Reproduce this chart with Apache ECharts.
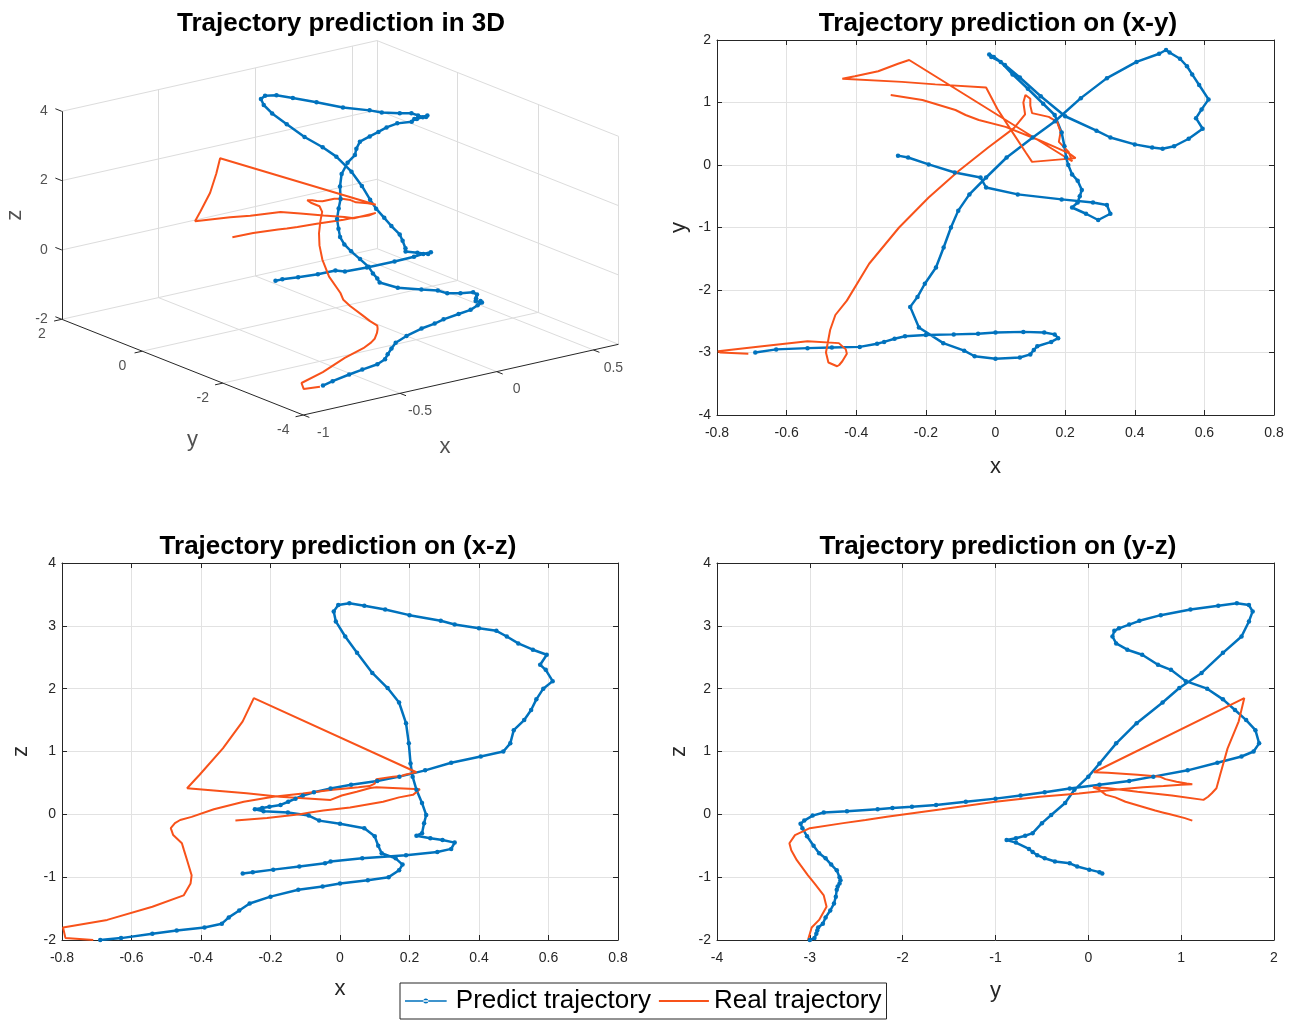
<!DOCTYPE html>
<html><head><meta charset="utf-8">
<script src="https://cdn.jsdelivr.net/npm/echarts@6/dist/echarts.min.js"></script>
<style>html,body{margin:0;padding:0;background:#fff;}#c{width:1296px;height:1022px;}</style>
</head><body><div id="c"></div>
<script>
// ---------- data ----------
const predX = [-0.69,-0.63,-0.54,-0.47,-0.39,-0.34,-0.32,-0.29,-0.26,-0.2,-0.12,-0.05,0.0,0.08,0.14,0.17,
 0.18,0.16,0.12,0.11,0.1,0.07,0.0,-0.06,-0.09,-0.15,-0.22,-0.245,
 -0.224,-0.203,-0.171,-0.149,-0.128,-0.107,-0.075,-0.027,0.032,0.107,0.171,0.245,0.32,0.405,0.47,0.49,
 0.5,0.53,0.55,0.565,0.585,0.612,0.592,0.576,0.595,0.555,0.513,0.48,0.45,
 0.4,0.33,0.29,0.2,0.13,0.07,0.027,-0.005,-0.018,-0.012,
 0.015,0.049,0.093,0.137,0.17,0.19,0.198,0.203,0.209,0.22,0.236,0.248,0.242,0.236,
 0.22,0.26,0.295,0.33,0.32,0.28,0.19,0.064,-0.027,-0.043,-0.117,-0.192,-0.251,-0.28];
const predY = [-3.0,-2.95,-2.93,-2.92,-2.91,-2.86,-2.83,-2.78,-2.74,-2.72,-2.71,-2.7,-2.68,-2.67,-2.68,-2.71,
 -2.77,-2.83,-2.9,-2.96,-3.03,-3.08,-3.1,-3.06,-2.97,-2.85,-2.6,-2.27,
 -2.11,-1.9,-1.64,-1.32,-1.0,-0.73,-0.47,-0.2,0.12,0.44,0.7,1.07,1.39,1.65,1.78,1.84,
 1.8,1.7,1.58,1.45,1.28,1.05,0.89,0.75,0.58,0.42,0.3,0.26,0.28,
 0.33,0.44,0.55,0.78,1.1,1.4,1.6,1.73,1.77,1.73,
 1.65,1.45,1.22,0.98,0.8,0.52,0.3,0.12,0.0,-0.15,-0.25,-0.4,-0.5,-0.6,
 -0.68,-0.78,-0.88,-0.78,-0.64,-0.6,-0.55,-0.47,-0.36,-0.2,-0.12,0.01,0.12,0.15];
const predZ = [-2.0,-1.97,-1.9,-1.85,-1.8,-1.74,-1.64,-1.53,-1.42,-1.31,-1.2,-1.15,-1.1,-1.05,-1.0,-0.89,
 -0.8,-0.7,-0.62,-0.5,-0.35,-0.22,-0.15,-0.1,-0.02,0.03,0.05,0.08,
 0.1,0.12,0.15,0.2,0.25,0.3,0.35,0.41,0.47,0.53,0.6,0.7,0.82,0.92,1.0,1.13,
 1.34,1.5,1.66,1.83,2.0,2.12,2.3,2.38,2.54,2.62,2.72,2.83,2.92,
 2.96,3.02,3.08,3.17,3.26,3.32,3.36,3.33,3.23,3.07,
 2.83,2.57,2.25,2.01,1.78,1.45,1.13,0.81,0.6,0.39,0.18,-0.01,-0.14,-0.3,
 -0.34,-0.38,-0.41,-0.45,-0.55,-0.6,-0.65,-0.7,-0.75,-0.78,-0.83,-0.88,-0.92,-0.94];

const realX = [-0.71,-0.79,-0.797,-0.67,-0.54,-0.45,-0.43,-0.427,-0.44,-0.449,-0.455,-0.48,-0.487,-0.475,-0.46,-0.427,-0.363,-0.277,-0.192,-0.107,
 -0.021,0.053,0.085,0.08,0.086,0.1,0.1,0.105,0.153,0.177,0.187,0.182,0.21,0.22,
 -0.248,-0.28,-0.337,-0.404,-0.44,-0.269,-0.173,-0.027,0.005,0.048,0.087,0.105,0.23,0.21,0.17,0.124,0.029,-0.048,-0.086,-0.115,-0.21,-0.301];
const realY = [-3.02,-3.0,-2.98,-2.9,-2.82,-2.85,-2.95,-3.02,-3.14,-3.2,-3.22,-3.16,-3.0,-2.64,-2.4,-2.17,-1.58,-1.0,-0.52,-0.1,
 0.28,0.59,0.81,1.0,1.12,1.06,0.95,0.83,0.77,0.69,0.53,0.37,0.21,0.06,
 1.68,1.62,1.5,1.42,1.38,1.33,1.29,1.24,0.9,0.53,0.2,0.05,0.11,0.19,0.29,0.4,0.61,0.72,0.8,0.88,1.04,1.12];
const realZ = [-2.0,-1.97,-1.8,-1.68,-1.47,-1.29,-1.1,-0.97,-0.73,-0.57,-0.46,-0.33,-0.22,-0.14,-0.09,-0.04,0.08,0.2,0.28,0.33,
 0.39,0.43,0.45,0.47,0.48,0.49,0.52,0.56,0.6,0.61,0.63,0.645,0.66,0.67,
 1.85,1.48,1.05,0.63,0.415,0.335,0.28,0.23,0.3,0.36,0.42,0.43,0.40,0.31,0.27,0.2,0.11,0.06,0.03,0.0,-0.06,-0.1];

// tick values
const ticks3dX = [-1, -0.5, 0, 0.5];
const ticks3dY = [-4, -2, 0, 2];
const ticks3dZ = [-2, 0, 2, 4];
const seriesNames = ['Predict trajectory', 'Real trajectory'];
const titles = ['Trajectory prediction in 3D', 'Trajectory prediction on (x-y)', 'Trajectory prediction on (x-z)', 'Trajectory prediction on (y-z)'];

// ---------- style ----------
const FONT = '"Liberation Sans", Arial, sans-serif';
const AX = '#262626';
const GRIDC = '#e2e2e2';
const BLUE = '#0072BD';
const ORANGE = '#F8521A';

function zip(a, b) { return a.map((v, i) => [v, b[i]]); }

// ---------- 3D view (orthographic projection, MATLAB default view) ----------
const lim3 = { x: [-1, 0.63], y: [-4, 2], z: [-2, 4] };
const view3 = { o: [303.3, 415], vx: [315.2, -70.7], vy: [-241.5, -95.7], vz: [0, -208] };
function P(x, y, z) {
  const fx = (x - lim3.x[0]) / (lim3.x[1] - lim3.x[0]);
  const fy = (y - lim3.y[0]) / (lim3.y[1] - lim3.y[0]);
  const fz = (z - lim3.z[0]) / (lim3.z[1] - lim3.z[0]);
  return [view3.o[0] + fx * view3.vx[0] + fy * view3.vy[0] + fz * view3.vz[0],
          view3.o[1] + fx * view3.vx[1] + fy * view3.vy[1] + fz * view3.vz[1]];
}
const [x0, x1] = lim3.x, [y0, y1] = lim3.y, [z0, z1] = lim3.z;
const inner = (arr, lo, hi) => arr.filter(t => t > lo + 1e-9 && t < hi - 1e-9);
const gridSegs = [];
inner(ticks3dX, x0, x1).forEach(t => { gridSegs.push([[t, y0, z0], [t, y1, z0]]); gridSegs.push([[t, y1, z0], [t, y1, z1]]); });
inner(ticks3dY, y0, y1).forEach(t => { gridSegs.push([[x0, t, z0], [x1, t, z0]]); gridSegs.push([[x1, t, z0], [x1, t, z1]]); });
inner(ticks3dZ, z0, z1).forEach(t => { gridSegs.push([[x0, y1, t], [x1, y1, t]]); gridSegs.push([[x1, y0, t], [x1, y1, t]]); });
const boxSegs = [
  [[x0, y1, z1], [x1, y1, z1]], [[x1, y1, z1], [x1, y0, z1]], [[x1, y1, z0], [x1, y1, z1]],
  [[x1, y0, z0], [x1, y0, z1]], [[x0, y1, z0], [x1, y1, z0]], [[x1, y0, z0], [x1, y1, z0]]
];
const axisSegs = [
  [[x0, y1, z0], [x0, y1, z1]], [[x0, y0, z0], [x0, y1, z0]], [[x0, y0, z0], [x1, y0, z0]]
];
ticks3dZ.forEach(t => axisSegs.push([[x0, y1, t], [x0, y1 + 0.16, t]]));
ticks3dY.forEach(t => axisSegs.push([[x0, t, z0], [x0 - 0.04, t, z0]]));
ticks3dX.forEach(t => axisSegs.push([[t, y0, z0], [t, y0 - 0.15, z0]]));
const segData = segs => segs.map(s => ({ coords: [P(...s[0]), P(...s[1])] }));

const labels3d = [];
ticks3dZ.forEach(t => labels3d.push({ value: P(x0, y1, t), label: { formatter: String(t), offset: [-14, 0], align: 'right' } }));
ticks3dY.forEach(t => labels3d.push({ value: P(x0, t, z0), label: { formatter: String(t), offset: [-20, 15] } }));
ticks3dX.forEach(t => labels3d.push({ value: P(t, y0, z0), label: { formatter: String(t), offset: [20, 18] } }));
const names3d = [
  { value: P(x0, y1, (z0 + z1) / 2), label: { formatter: 'z', offset: [0, -47], rotate: 90 } },
  { value: P(x0, (y0 + y1) / 2, z0), label: { formatter: 'y', offset: [10, 73] } },
  { value: P((x0 + x1) / 2, y0, z0), label: { formatter: 'x', offset: [-16, 67] } }
];

// ---------- 2D panels ----------
const panels = [
  { rect: [717, 40, 557, 375], xr: [-0.8, 0.8, 0.2], yr: [-4, 2, 1], xn: 'x', yn: 'y', px: predX, py: predY, rx: realX, ry: realY, xgap: 41, ygap: 27 },
  { rect: [62, 563, 556, 377], xr: [-0.8, 0.8, 0.2], yr: [-2, 4, 1], xn: 'x', yn: 'z', px: predX, py: predZ, rx: realX, ry: realZ, xgap: 38, ygap: 30 },
  { rect: [717, 563, 557, 377], xr: [-4, 2, 1], yr: [-2, 4, 1], xn: 'y', yn: 'z', px: predY, py: predZ, rx: realY, ry: realZ, xgap: 40, ygap: 27 }
];
const grids = [], xAxes = [], yAxes = [], series = [];
panels.forEach((p, i) => {
  grids.push({ left: p.rect[0], top: p.rect[1], width: p.rect[2], height: p.rect[3], show: true, backgroundColor: '#fff', borderWidth: 0 });
  const base = { gridIndex: i, type: 'value', axisLine: { show: true, onZero: false, lineStyle: { color: AX, width: 1 } },
    axisTick: { show: true, inside: true, length: 5, lineStyle: { color: AX } } };
  xAxes.push(Object.assign({}, base, { min: p.xr[0], max: p.xr[1], interval: p.xr[2], position: 'bottom',
    axisLabel: { color: AX, fontSize: 14, fontFamily: FONT, margin: 11 },
    splitLine: { show: true, lineStyle: { color: GRIDC, width: 1 } },
    name: p.xn, nameLocation: 'middle', nameGap: p.xgap, nameTextStyle: { color: AX, fontSize: 22, fontFamily: FONT } }));
  xAxes.push(Object.assign({}, base, { min: p.xr[0], max: p.xr[1], interval: p.xr[2], position: 'top', axisLabel: { show: false }, splitLine: { show: false } }));
  yAxes.push(Object.assign({}, base, { min: p.yr[0], max: p.yr[1], interval: p.yr[2], position: 'left',
    axisLabel: { color: AX, fontSize: 14, fontFamily: FONT, margin: 6 },
    splitLine: { show: true, lineStyle: { color: GRIDC, width: 1 } },
    name: p.yn, nameLocation: 'middle', nameGap: p.ygap, nameTextStyle: { color: AX, fontSize: 22, fontFamily: FONT } }));
  yAxes.push(Object.assign({}, base, { min: p.yr[0], max: p.yr[1], interval: p.yr[2], position: 'right', axisLabel: { show: false }, splitLine: { show: false } }));
  series.push({ name: seriesNames[0], type: 'line', xAxisIndex: 2 * i, yAxisIndex: 2 * i, data: zip(p.px, p.py),
    symbol: 'circle', symbolSize: 4.5, showSymbol: true, lineStyle: { color: BLUE, width: 2.5 }, itemStyle: { color: BLUE }, silent: true });
  series.push({ name: seriesNames[1], type: 'line', xAxisIndex: 2 * i, yAxisIndex: 2 * i, data: zip(p.rx, p.ry),
    symbol: 'none', showSymbol: false, lineStyle: { color: ORANGE, width: 2 }, itemStyle: { color: ORANGE }, silent: true });
});

// 3D overlay grid (screen-space axes)
const g3 = grids.length;
grids.push({ left: 0, top: 0, width: 1296, height: 1022, show: false });
xAxes.push({ gridIndex: g3, type: 'value', min: 0, max: 1296, show: false });
yAxes.push({ gridIndex: g3, type: 'value', min: 0, max: 1022, inverse: true, show: false });
const ax3 = xAxes.length - 1, ay3 = yAxes.length - 1;
series.push({ type: 'lines', coordinateSystem: 'cartesian2d', xAxisIndex: ax3, yAxisIndex: ay3, silent: true, z: 1,
  lineStyle: { color: '#dcdcdc', width: 1, opacity: 1 }, data: segData(gridSegs.concat(boxSegs)) });
series.push({ type: 'lines', coordinateSystem: 'cartesian2d', xAxisIndex: ax3, yAxisIndex: ay3, silent: true, z: 2,
  lineStyle: { color: AX, width: 1, opacity: 1 }, data: segData(axisSegs) });
series.push({ name: seriesNames[0], type: 'line', xAxisIndex: ax3, yAxisIndex: ay3, z: 3, silent: true,
  data: predX.map((x, i) => P(x, predY[i], predZ[i])),
  symbol: 'circle', symbolSize: 4.5, showSymbol: true, lineStyle: { color: BLUE, width: 2.5 }, itemStyle: { color: BLUE } });
series.push({ name: seriesNames[1], type: 'line', xAxisIndex: ax3, yAxisIndex: ay3, z: 3, silent: true,
  data: realX.map((x, i) => P(x, realY[i], realZ[i])),
  symbol: 'none', showSymbol: false, lineStyle: { color: ORANGE, width: 2 }, itemStyle: { color: ORANGE } });
series.push({ type: 'scatter', xAxisIndex: ax3, yAxisIndex: ay3, symbolSize: 0, silent: true, z: 4,
  label: { show: true, position: 'inside', color: AX, fontSize: 14, fontFamily: FONT }, data: labels3d });
series.push({ type: 'scatter', xAxisIndex: ax3, yAxisIndex: ay3, symbolSize: 0, silent: true, z: 4,
  label: { show: true, position: 'inside', color: AX, fontSize: 22, fontFamily: FONT }, data: names3d });

const titleCenters = [[336, 6], [993, 6], [333, 529], [993, 529]];
const option = {
  animation: false,
  backgroundColor: '#fff',
  title: titles.map((t, i) => ({ text: t, left: titleCenters[i][0], top: titleCenters[i][1], textAlign: 'center',
    textStyle: { fontSize: 26, fontWeight: 'bold', color: '#000', fontFamily: FONT } })),
  legend: {
    data: [
      { name: seriesNames[0], icon: 'path://M0,0 M0,1.5 L50,1.5 L50,3.5 L0,3.5 Z M22,2.5 A3,3 0 1,0 28,2.5 A3,3 0 1,0 22,2.5 Z M50,5' },
      { name: seriesNames[1], icon: 'path://M0,0 M0,1.5 L50,1.5 L50,3.5 L0,3.5 Z M50,5' }
    ],
    left: 400, top: 983, orient: 'horizontal',
    borderColor: AX, borderWidth: 1, backgroundColor: '#fff', padding: [5, 5, 5, 5], itemGap: 8,
    itemWidth: 50, itemHeight: 5, textStyle: { fontSize: 26, color: '#000', fontFamily: FONT } },
  grid: grids, xAxis: xAxes, yAxis: yAxes, series: series
};
const chart = echarts.init(document.getElementById('c'), null, { renderer: 'canvas' });
chart.setOption(option);
</script></body></html>
